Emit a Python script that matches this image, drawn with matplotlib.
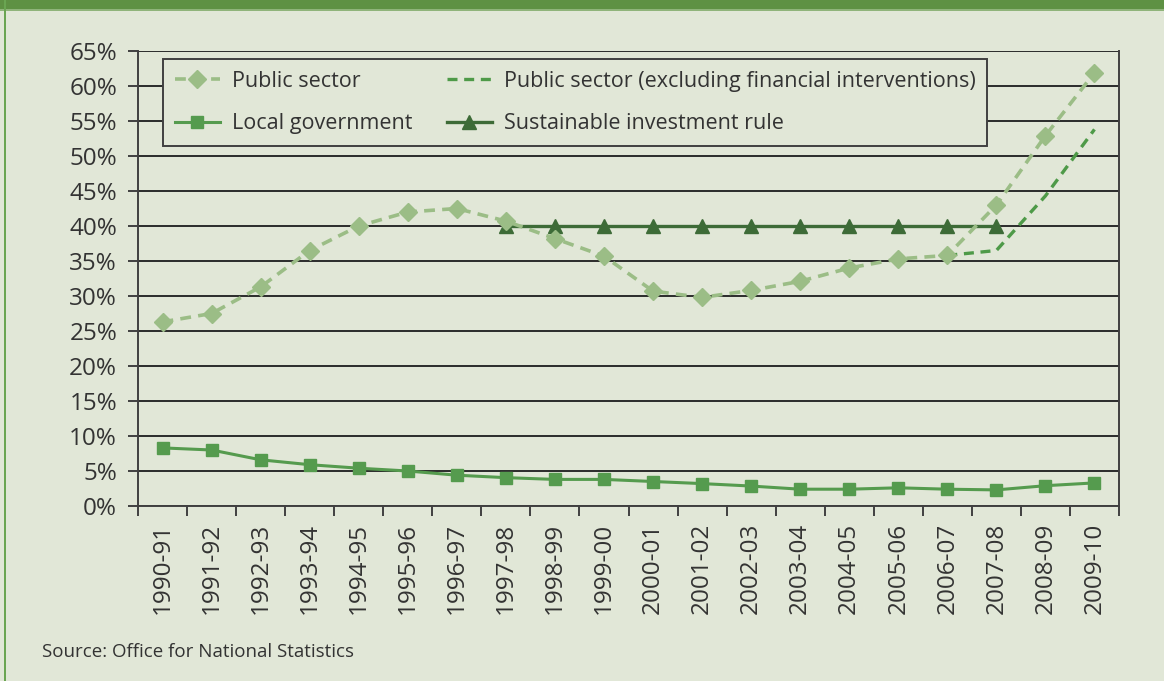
import numpy as np
import matplotlib.pyplot as plt
from matplotlib.patches import Rectangle
from matplotlib.ticker import FixedLocator, FuncFormatter

years = ['1990-91', '1991-92', '1992-93', '1993-94', '1994-95', '1995-96', '1996-97',
         '1997-98', '1998-99', '1999-00', '2000-01', '2001-02', '2002-03', '2003-04',
         '2004-05', '2005-06', '2006-07', '2007-08', '2008-09', '2009-10']

public_sector = [26.3, 27.5, 31.3, 36.5, 40.0, 42.0, 42.5, 40.7, 38.2, 35.7,
                 30.7, 29.8, 30.8, 32.1, 34.0, 35.3, 35.8, 43.0, 52.9, 61.9]
nan = np.nan
public_ex_fin = [nan] * 16 + [35.8, 36.5, 44.3, 53.8]
local_gov = [8.3, 8.0, 6.6, 5.9, 5.4, 5.0, 4.4, 4.05, 3.8, 3.8,
             3.5, 3.2, 2.85, 2.4, 2.4, 2.6, 2.4, 2.3, 2.9, 3.3]
invest_rule = [nan] * 7 + [40] * 11 + [nan] * 2

BG = '#e1e7d7'
TXT = '#333333'
plt.rcParams['font.family'] = ['Open Sans', 'DejaVu Sans']

fig = plt.figure(figsize=(11.64, 6.81), dpi=100, facecolor=BG)

# green title band and left border of the panel
fig.patches.append(Rectangle((0, 1 - 10 / 681), 1, 10 / 681, transform=fig.transFigure,
                             facecolor='#5e9143', edgecolor='none'))
fig.patches.append(Rectangle((0, 1 - 11 / 681), 1, 1.5 / 681, transform=fig.transFigure,
                             facecolor='#8fb47a', edgecolor='none'))
fig.patches.append(Rectangle((4 / 1164, 0), 1.5 / 1164, 1, transform=fig.transFigure,
                             facecolor='#6aa552', edgecolor='none'))

ax = fig.add_axes([138 / 1164, 1 - 506 / 681, (1119 - 138) / 1164, (506 - 51) / 681])
ax.set_facecolor(BG)

x = np.arange(len(years))
ax.plot(x, public_sector, ls=(0, (3, 2)), lw=2.6, color='#9bbd86', marker='D', ms=9,
        mec='#9bbd86', label='Public sector', zorder=4)
ax.plot(x, local_gov, ls='-', lw=2.2, color='#559b4e', marker='s', ms=8,
        mec='#559b4e', label='Local government', zorder=4)
ax.plot(x, public_ex_fin, ls=(0, (3, 2)), lw=2.4, color='#4e9a48',
        label='Public sector (excluding financial interventions)', zorder=3)
ax.plot(x, invest_rule, ls='-', lw=2.4, color='#3d6b37', marker='^', ms=10,
        mec='#3d6b37', label='Sustainable investment rule', zorder=3)

ax.set_xlim(-0.5, len(years) - 0.5)
ax.set_ylim(0, 65)
ax.set_yticks(np.arange(0, 66, 5))
ax.yaxis.set_major_formatter(FuncFormatter(lambda v, p: f'{v:.0f}%'))
ax.yaxis.grid(True, color='#2b2b2b', lw=1.4)
ax.set_axisbelow(True)

# category axis: ticks between categories, labels at their centres
ax.xaxis.set_major_locator(FixedLocator(np.arange(-0.5, len(years), 1)))
ax.xaxis.set_major_formatter(FuncFormatter(lambda v, p: ''))
ax.xaxis.set_minor_locator(FixedLocator(x))
ax.set_xticklabels(years, minor=True, rotation=90)
ax.tick_params(axis='x', which='minor', length=0, pad=12, labelsize=17.5, labelcolor=TXT)
ax.tick_params(axis='x', which='major', length=7, width=1.4, color='#404040')
ax.tick_params(axis='y', length=7, width=1.4, color='#404040', labelsize=17.5,
               labelcolor=TXT, pad=8)

for side in ('left', 'right', 'bottom'):
    ax.spines[side].set_color('#404040')
    ax.spines[side].set_linewidth(1.4)
ax.spines['top'].set_visible(False)

leg = ax.legend(ncol=2, loc='upper left', bbox_to_anchor=(25 / 981, 1 - 8 / 455),
                borderaxespad=0, frameon=True, fancybox=False, framealpha=1,
                facecolor=BG, edgecolor='#404040', fontsize=15.5, handlelength=2.1,
                handletextpad=0.55, columnspacing=1.6, borderpad=0.55,
                labelspacing=1.0, labelcolor=TXT)
leg.get_frame().set_linewidth(1.4)

fig.text(42 / 1164, 1 - 652 / 681, 'Source: Office for National Statistics',
         fontsize=13.5, color=TXT, va='center', ha='left')

fig.savefig('out.png', dpi=100, facecolor=BG)
